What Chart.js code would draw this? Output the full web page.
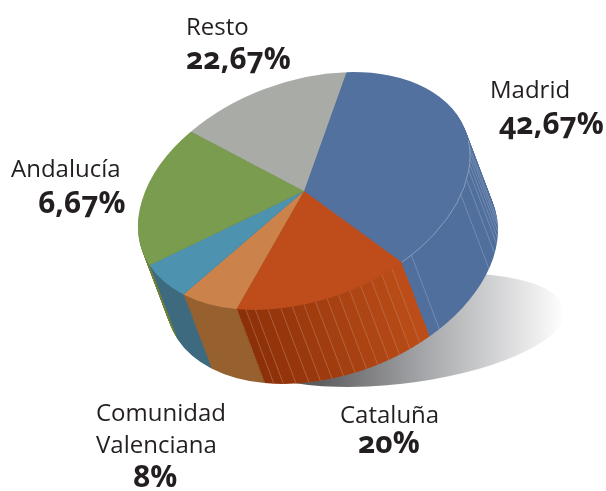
<!DOCTYPE html>
<html>
<head>
<meta charset="utf-8">
<style>
  html, body { margin: 0; padding: 0; background: #fff; }
  #wrap { position: relative; width: 606px; height: 491px; overflow: hidden; }
  canvas { position: absolute; left: 0; top: 0; }
  .t { position: absolute; white-space: nowrap; color: #231f20; line-height: 1; font-family: "Open Sans", sans-serif; }
  .name { font-size: 24px; font-weight: 400; }
  .pct { font-size: 30px; font-weight: 700; font-feature-settings: "onum"; }
</style>
</head>
<body>
<div id="wrap">
  <canvas id="pie" width="606" height="491"></canvas>
</div>
<script src="https://cdn.jsdelivr.net/npm/chart.js@4"></script>
<script>
// slice sizes as seen in the picture (they don't follow the printed percentages)
const categories = ["Madrid", "Cataluña", "Comunidad Valenciana", "", "Andalucía", "Resto"];
const sliceValues = [35.86, 16.69, 6.28, 6.08, 19.06, 16.03];
const topColors = ["#52719f", "#bf4d1b", "#cb834b", "#4d92af", "#7a9c4f", "#a9aca6"];
const firstAngle = 14.8;

const nameLines = [["Resto"], ["Madrid"], ["Andalucía"], ["Comunidad", "Valenciana"], ["Cataluña"]];
const pctTexts = ["22,67%", "42,67%", "6,67%", "8%", "20%"];

// wall look, per slice: colour at slice start, colour at slice end, line colour, facet edges in degrees
const wallFrom = ["#506f9c", "#bc4d18", "#97602f", "#3d6a7f", "#6b7f3a", "#8c8f88"];
const wallTo = ["#506f9c", "#8c3009", "#97602f", "#3d6a7f", "#6b7f3a", "#8c8f88"];
const wallLine = ["#8a9ebd", "#c07a58", "#97602f", "#3d6a7f", "#6b7f3a", "#8c8f88"];
const wallEdges = [
  [85, 88, 91, 94, 97, 101.6, 109, 139.7],
  [148, 152, 156, 160, 164, 168, 172, 176, 180, 184, 188, 192.5, 197, 200.5],
  [], [], [], []
];

const DEPTH_X = 28, DEPTH_Y = 74, LAYERS = 76;
const TOP_CX = 304, TOP_CY = 191;

function hexMix(a, b, t) {
  const pa = parseInt(a.slice(1), 16), pb = parseInt(b.slice(1), 16);
  const ch = (s) => Math.round(((pa >> s) & 255) * (1 - t) + ((pb >> s) & 255) * t);
  return "rgb(" + ch(16) + "," + ch(8) + "," + ch(0) + ")";
}

function tiltPie(ctx, arc) {
  const R = arc.outerRadius;
  const a = 166 / R, b = -35 / R, d = 113.7 / R;
  ctx.transform(a, b, 0, d, TOP_CX - a * arc.x, TOP_CY - b * arc.x - d * arc.y);
}

function wallGradient(ctx, arc) {
  const g = ctx.createConicGradient(((firstAngle - 90) * Math.PI) / 180, arc.x, arc.y);
  const total = sliceValues.reduce((p, c) => p + c, 0);
  let pos = 0;
  sliceValues.forEach((v, i) => {
    const span = v / total;
    const start = pos * 360 + firstAngle;
    const end = (pos + span) * 360 + firstAngle;
    const edges = [start].concat(wallEdges[i], [end]);
    for (let j = 0; j < edges.length - 1; j++) {
      const c = hexMix(wallFrom[i], wallTo[i], j / Math.max(edges.length - 2, 1));
      g.addColorStop((edges[j] - firstAngle) / 360, c);
      g.addColorStop((edges[j + 1] - firstAngle) / 360, c);
    }
    pos += span;
  });
  return g;
}

function drawWallLines(ctx, arc) {
  const m = new DOMMatrix();
  ctx.save();
  ctx.setTransform(m);
  tiltPie(ctx, arc);
  const t = ctx.getTransform();
  ctx.restore();
  wallEdges.forEach((edges, i) => {
    edges.forEach((deg) => {
      const ang = ((deg - 90) * Math.PI) / 180;
      const p = t.transformPoint(new DOMPoint(arc.x + arc.outerRadius * Math.cos(ang), arc.y + arc.outerRadius * Math.sin(ang)));
      ctx.beginPath();
      ctx.moveTo(p.x, p.y);
      ctx.lineTo(p.x + DEPTH_X, p.y + DEPTH_Y);
      ctx.strokeStyle = wallLine[i];
      ctx.lineWidth = 0.6;
      ctx.stroke();
    });
  });
}

const pieScene = {
  id: "pieScene",
  beforeDatasetsDraw(chart) {
    const ctx = chart.ctx;
    const arcs = chart.getDatasetMeta(0).data;
    const first = arcs[0];

    // floor shadow
    ctx.save();
    const sh = ctx.createLinearGradient(318, 0, 565, 0);
    sh.addColorStop(0, "#5d5d60");
    sh.addColorStop(0.45, "#a9aaad");
    sh.addColorStop(1, "#ffffff");
    ctx.beginPath();
    ctx.transform(165, -18, 0, 54, 400, 330);
    ctx.arc(0, 0, 1, 0, Math.PI * 2);
    ctx.restore();
    ctx.fillStyle = sh;
    ctx.fill();

    // side walls: the same arcs drawn again, stepped down
    ctx.save();
    tiltPie(ctx, first);
    const grad = wallGradient(ctx, first);
    ctx.restore();
    for (let i = LAYERS; i >= 1; i--) {
      ctx.save();
      ctx.translate((DEPTH_X * i) / LAYERS, (DEPTH_Y * i) / LAYERS);
      tiltPie(ctx, first);
      arcs.forEach((arc) => {
        const keep = arc.options.backgroundColor;
        arc.options.backgroundColor = grad;
        arc.draw(ctx);
        arc.options.backgroundColor = keep;
      });
      ctx.restore();
    }
    drawWallLines(ctx, first);

    // top face goes through the normal dataset draw
    ctx.save();
    tiltPie(ctx, first);
  },
  afterDatasetsDraw(chart) {
    const ctx = chart.ctx;
    const first = chart.getDatasetMeta(0).data[0];
    // pale rim along the blue wall
    ctx.beginPath();
    ctx.arc(first.x, first.y, first.outerRadius, (-8 * Math.PI) / 180, first.endAngle);
    ctx.restore();
    ctx.strokeStyle = "#9fb1cb";
    ctx.lineWidth = 0.7;
    ctx.stroke();
  },
};

new Chart(document.getElementById("pie"), {
  type: "pie",
  data: {
    labels: categories,
    datasets: [{ data: sliceValues, backgroundColor: topColors, borderWidth: 0, clip: false }],
  },
  options: {
    responsive: false,
    animation: false,
    rotation: firstAngle,
    layout: { padding: 0 },
    plugins: { legend: { display: false }, tooltip: { enabled: false } },
  },
  plugins: [pieScene],
});

// labels: [left, top] of each name block and of each percentage
const namePos = [[186, 14], [490, 77], [11, 156], [96, 400], [340, 402]];
const lineGap = 32;
const pctPos = [[186, 43], [499, 108], [38, 187], [133, 461], [358, 427]];
const wrap = document.getElementById("wrap");
function addText(cls, text, x, y) {
  const el = document.createElement("div");
  el.className = "t " + cls;
  el.textContent = text;
  el.style.left = x + "px";
  el.style.top = y + "px";
  wrap.appendChild(el);
}
nameLines.forEach((lines, i) => {
  lines.forEach((line, j) => addText("name", line, namePos[i][0], namePos[i][1] + j * lineGap));
  addText("pct", pctTexts[i], pctPos[i][0], pctPos[i][1]);
});
</script>
</body>
</html>
